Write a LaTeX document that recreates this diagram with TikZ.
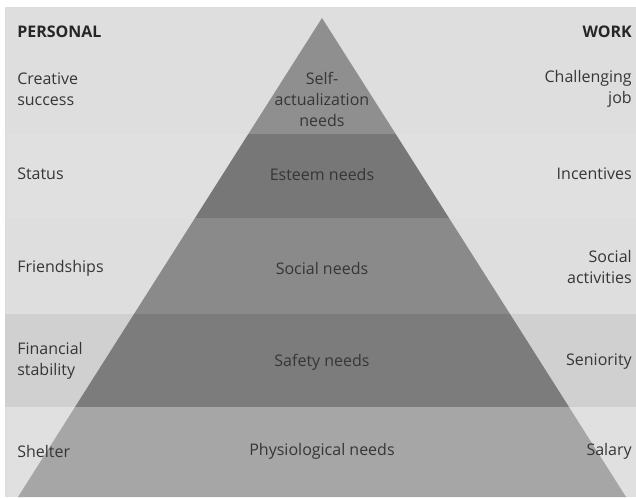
\documentclass[tikz,border=0pt]{standalone}
\usepackage{fontspec}
\setmainfont{Open Sans}
\usepackage{tikz}
\usepackage{xcolor}
\definecolor{bandA}{HTML}{DEDEDE}
\definecolor{bandB}{HTML}{E0E0E0}
\definecolor{bandC}{HTML}{D0D0D0}
\definecolor{selfcol}{HTML}{8F8F8F}
\definecolor{esteemcol}{HTML}{777777}
\definecolor{socialcol}{HTML}{8A8A8A}
\definecolor{safetycol}{HTML}{7C7C7C}
\definecolor{physcol}{HTML}{A6A6A6}
\definecolor{txt}{HTML}{363636}

\begin{document}
\begin{tikzpicture}[x=0.75pt,y=-0.75pt,
  lab/.style={text=txt,font=\fontsize{12}{15.8}\selectfont,inner sep=0pt},
  left lab/.style={lab,anchor=west,align=left},
  right lab/.style={lab,anchor=east,align=right},
  mid lab/.style={lab,align=center},
  head lab/.style={text=black!85,font=\fontsize{12}{15.8}\selectfont\bfseries,inner sep=0pt}]
  \useasboundingbox (0,0) rectangle (636,497);
  \fill[white] (0,0) rectangle (636,497);
  % background bands
  \fill[bandA] (5,7) rectangle (636,134);
  \fill[bandB] (5,134) rectangle (636,218);
  \fill[bandA] (5,218) rectangle (636,314);
  \fill[bandC] (5,314) rectangle (636,407);
  \fill[bandB] (5,407) rectangle (636,497);
  % pyramid
  \fill[selfcol] (322,18) -- (395.7,134) -- (248.3,134) -- cycle;
  \fill[esteemcol] (248.3,134) -- (395.7,134) -- (449,218) -- (195,218) -- cycle;
  \fill[socialcol] (195,218) -- (449,218) -- (510,314) -- (134,314) -- cycle;
  \fill[safetycol] (134,314) -- (510,314) -- (569,407) -- (75,407) -- cycle;
  \fill[physcol] (75,407) -- (569,407) -- (626,497) -- (18,497) -- cycle;
  % headings
  \node[head lab,anchor=west] (personal) at (17,32) {PERSONAL};
  \node[head lab,anchor=east] (work) at (632,32) {WORK};
  % personal
  \node[left lab] (creative) at (17,89) {Creative\\success};
  \node[left lab] (status) at (17,174) {Status};
  \node[left lab] (friends) at (17,268) {Friendships};
  \node[left lab] (financial) at (17,361) {Financial\\stability};
  \node[left lab] (shelter) at (17,451) {Shelter};
  % needs
  \node[mid lab] (selfact) at (322,99.5) {Self-\\actualization\\needs};
  \node[mid lab] (esteem) at (322,174) {Esteem needs};
  \node[mid lab] (social) at (322,268) {Social needs};
  \node[mid lab] (safety) at (322,362) {Safety needs};
  \node[mid lab] (physio) at (322,451) {Physiological needs};
  % work
  \node[right lab] (challenge) at (632,89) {Challenging\\job};
  \node[right lab] (incent) at (632,174) {Incentives};
  \node[right lab] (socact) at (632,267) {Social\\activities};
  \node[right lab] (senior) at (632,362) {Seniority};
  \node[right lab] (salary) at (632,451) {Salary};
\end{tikzpicture}
\end{document}
